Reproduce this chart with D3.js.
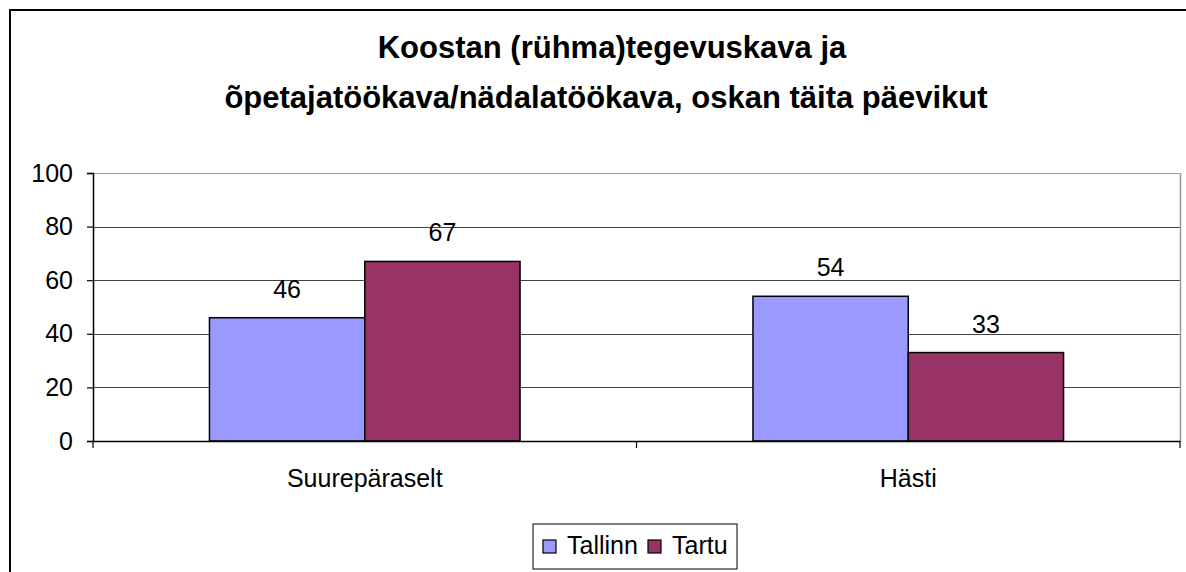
<!DOCTYPE html>
<html>
<head>
<meta charset="utf-8">
<script src="https://cdn.jsdelivr.net/npm/d3@7"></script>
<style>
  body { margin: 0; background: #fff; }
  svg { display: block; font-family: "Liberation Sans", Arial, sans-serif; }
</style>
</head>
<body>
<div id="chart"></div>
<script>
// chart data
var categories = ["Suurepäraselt", "Hästi"];
var seriesNames = ["Tallinn", "Tartu"];
var tallinn = [46, 54];
var tartu = [67, 33];
var yTicks = [0, 20, 40, 60, 80, 100];
var titleLines = ["Koostan (rühma)tegevuskava ja", "õpetajatöökava/nädalatöökava, oskan täita päevikut"];

var colors = ["#9999FF", "#993366"];

var width = 1186
    height = 572
    fontSize = "25px"

var svg = d3.select("#chart")
  .append("svg")
    .attr("width", width)
    .attr("height", height)

// outer chart border (runs off the right and bottom edge)
svg.append("rect")
  .attr("x", 10).attr("y", 10)
  .attr("width", 1200).attr("height", 600)
  .attr("fill", "#fff")
  .attr("stroke", "#000")
  .attr("stroke-width", 2)

// title
svg.append("text")
  .attr("text-anchor", "middle")
  .style("font-size", "31px")
  .style("font-weight", "bold")
  .selectAll("tspan")
  .data(titleLines)
  .enter()
  .append("tspan")
    .attr("x", function(d, i) { return i == 0 ? 612 : 606; })
    .attr("y", function(d, i) { return 58 + i * 50; })
    .text(function(d) { return d; })

// plot area
var plot = { left: 93, right: 1180, top: 173, bottom: 441 };

var x0 = d3.scaleBand()
  .domain(categories)
  .range([plot.left, plot.right])
  .paddingInner(0)
  .paddingOuter(0)

var x1 = d3.scaleBand()
  .domain(seriesNames)
  .range([0, x0.bandwidth()])
  .paddingOuter(0.75)
  .paddingInner(0)

var y = d3.scaleLinear()
  .domain([0, 100])
  .range([plot.bottom, plot.top])

// gridlines
svg.append("g")
  .selectAll("line")
  .data(yTicks.slice(1))
  .enter()
  .append("line")
    .attr("x1", plot.left).attr("x2", plot.right)
    .attr("y1", function(d) { return Math.round(y(d)) + 0.5; })
    .attr("y2", function(d) { return Math.round(y(d)) + 0.5; })
    .attr("stroke", function(d) { return d == 100 ? "#999" : "#444"; })
    .attr("stroke-width", 1.2)

// right border of plot area
svg.append("line")
  .attr("x1", plot.right + 0.5).attr("x2", plot.right + 0.5)
  .attr("y1", plot.top).attr("y2", plot.bottom)
  .attr("stroke", "#999")
  .attr("stroke-width", 1.5)

// bars
var rows = categories.map(function(c, i) {
  return { category: c, values: [tallinn[i], tartu[i]] };
});

var groups = svg.append("g")
  .selectAll("g")
  .data(rows)
  .enter()
  .append("g")
    .attr("transform", function(d) { return "translate(" + x0(d.category) + ",0)"; })

groups.selectAll("rect")
  .data(function(d) { return d.values.map(function(v, j) { return { key: seriesNames[j], value: v, j: j }; }); })
  .enter()
  .append("rect")
    .attr("x", function(d) { return x1(d.key); })
    .attr("y", function(d) { return y(d.value); })
    .attr("width", x1.bandwidth())
    .attr("height", function(d) { return plot.bottom - y(d.value); })
    .attr("fill", function(d) { return colors[d.j]; })
    .attr("stroke", "#000")
    .attr("stroke-width", 1.5)

// value labels
groups.selectAll("text")
  .data(function(d) { return d.values.map(function(v, j) { return { key: seriesNames[j], value: v }; }); })
  .enter()
  .append("text")
    .attr("x", function(d) { return x1(d.key) + x1.bandwidth() / 2; })
    .attr("y", function(d) { return y(d.value) - 20; })
    .attr("text-anchor", "middle")
    .style("font-size", fontSize)
    .text(function(d) { return d.value; })

// y axis
var yAxis = svg.append("g")
  .attr("transform", "translate(" + plot.left + ",0)")
  .call(d3.axisLeft(y).tickValues(yTicks).tickSize(6).tickPadding(14))

yAxis.select(".domain").attr("stroke", "#000").attr("stroke-width", 1.5)
yAxis.selectAll(".tick line").attr("stroke", "#000").attr("stroke-width", 1.2)
yAxis.selectAll(".tick text")
  .style("font-size", fontSize)
  .style("font-family", "Liberation Sans, Arial, sans-serif")
  .attr("fill", "#000")

// x axis
var xAxis = svg.append("g")
  .attr("transform", "translate(0," + plot.bottom + ")")
  .call(d3.axisBottom(x0).tickSize(0).tickPadding(28))

xAxis.select(".domain").attr("stroke", "#000").attr("stroke-width", 1.5)
xAxis.selectAll(".tick text")
  .style("font-size", fontSize)
  .style("font-family", "Liberation Sans, Arial, sans-serif")
  .attr("fill", "#000")

// category separator ticks
svg.append("g")
  .selectAll("line")
  .data(categories.concat(["end"]))
  .enter()
  .append("line")
    .attr("x1", function(d, i) { return i < categories.length ? x0(d) : plot.right; })
    .attr("x2", function(d, i) { return i < categories.length ? x0(d) : plot.right; })
    .attr("y1", plot.bottom).attr("y2", plot.bottom + 7)
    .attr("stroke", "#000")
    .attr("stroke-width", 1.2)

// legend
var legend = svg.append("g")
  .attr("transform", "translate(533,524)")

legend.append("rect")
  .attr("width", 204).attr("height", 45)
  .attr("fill", "#fff")
  .attr("stroke", "#000")
  .attr("stroke-width", 1)

var legendX = [10, 115];
var items = legend.selectAll("g.item")
  .data(seriesNames)
  .enter()
  .append("g")
    .attr("class", "item")
    .attr("transform", function(d, i) { return "translate(" + legendX[i] + ",0)"; })

items.append("rect")
  .attr("y", 16).attr("width", 13).attr("height", 13)
  .attr("fill", function(d, i) { return colors[i]; })
  .attr("stroke", "#000")
  .attr("stroke-width", 1.2)

items.append("text")
  .attr("x", 24).attr("y", 30)
  .style("font-size", fontSize)
  .text(function(d) { return d; })
</script>
</body>
</html>
